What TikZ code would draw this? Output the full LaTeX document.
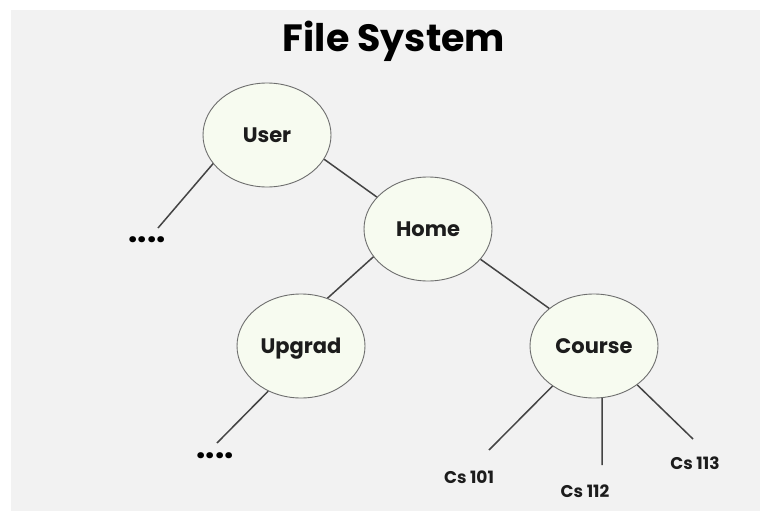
\documentclass[tikz,border=0pt]{standalone}
\usepackage{fontspec}
\setmainfont{Poppins}[BoldFont={* Bold}]
\usetikzlibrary{shapes.geometric}
\definecolor{pagebg}{HTML}{F2F2F2}
\definecolor{nodefill}{HTML}{F7FBF0}
\definecolor{nodeline}{HTML}{6E6E6E}
\definecolor{linkline}{HTML}{444444}
\definecolor{ink}{HTML}{1C1C1C}
\tikzset{
  dirnode/.style={ellipse, draw=nodeline, line width=0.9pt, fill=nodefill,
    minimum width=128pt, minimum height=104pt, inner sep=0pt,
    text height=14.5pt, text depth=0pt,
    text=ink, font=\bfseries\fontsize{21}{21}\selectfont},
  link/.style={draw=linkline, line width=1.5pt},
  leaf/.style={text=ink, font=\bfseries\fontsize{17}{17}\selectfont, inner sep=0pt},
  more/.style={text=black, font=\bfseries\fontsize{33}{33}\selectfont, inner sep=0pt},
}
\begin{document}
\begin{tikzpicture}[x=1pt,y=-1pt]
  % canvas
  \fill[white] (0,0) rectangle (760,511);
  \fill[pagebg] (11,10) rectangle (760,511);
  \useasboundingbox (0,0) rectangle (760,511);

  % title
  \node[anchor=base, text=black, font=\bfseries\fontsize{38}{38}\selectfont, inner sep=0pt]
    (title) at (394,52) {File System};

  % directories
  \node[dirnode] (user)   at (267,135) {User};
  \node[dirnode] (home)   at (428,229) {Home};
  \node[dirnode] (upgrad) at (301,346) {Upgrad};
  \node[dirnode] (course) at (594,346) {Course};

  % leaf labels
  \node[more] (udots) at (147,240) {....};
  \node[more] (gdots) at (215,456) {....};
  \node[leaf] (cs101) at (469,477) {Cs 101};
  \node[leaf] (cs112) at (585,491) {Cs 112};
  \node[leaf] (cs113) at (695,463) {Cs 113};

  % free ends of the leaf connectors
  \coordinate (uend)  at (158,228);
  \coordinate (gend)  at (217,443);
  \coordinate (c1end) at (489,450);
  \coordinate (c2end) at (602,465);
  \coordinate (c3end) at (693,439);

  % connectors
  \draw[link] (user.208) -- (uend);
  \draw[link] (user.337) -- (home.148);
  \draw[link] (home.207) -- (upgrad.61);
  \draw[link] (home.330) -- (course.140);
  \draw[link] (upgrad.234) -- (gend);
  \draw[link] (course.224) -- (c1end);
  \draw[link] (course.279) -- (c2end);
  \draw[link] (course.318) -- (c3end);
\end{tikzpicture}
\end{document}
